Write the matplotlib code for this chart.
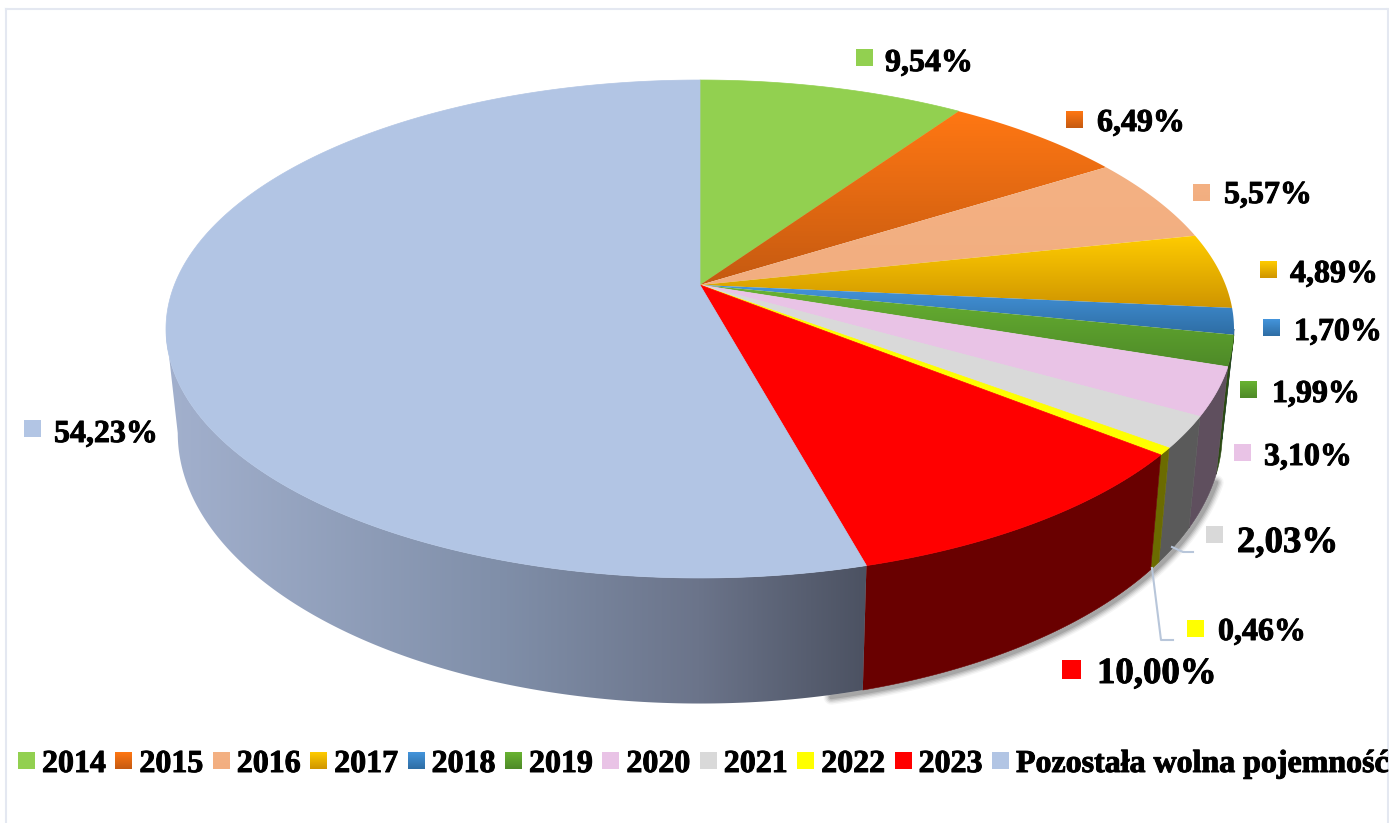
import numpy as np
import matplotlib
matplotlib.use("Agg")
import matplotlib.pyplot as plt
import matplotlib.patheffects as pe
from matplotlib.patches import Polygon, Rectangle
from matplotlib.colors import LinearSegmentedColormap, to_rgb

# data
years = ["2014", "2015", "2016", "2017", "2018", "2019", "2020", "2021", "2022", "2023", "Pozostała wolna pojemność"]
values = [9.54, 6.49, 5.57, 4.89, 1.70, 1.99, 3.10, 2.03, 0.46, 10.00, 54.23]
labels = ["9,54%", "6,49%", "5,57%", "4,89%", "1,70%", "1,99%", "3,10%", "2,03%", "0,46%", "10,00%", "54,23%"]

# top face colours, (light, dark) where the slice has a vertical gradient
top_colors = [("#92d050", "#92d050"), ("#ff7713", "#c55a11"), ("#f4b183", "#f2ae80"), ("#ffcc00", "#cf9500"),
              ("#4495dc", "#2e6da4"), ("#69b332", "#4e8a28"), ("#e9c3e6", "#e9c3e6"), ("#d9d9d9", "#d9d9d9"),
              ("#ffff00", "#ffff00"), ("#ff0000", "#ff0000"), ("#b2c5e4", "#b2c5e4")]
side_colors = ["#4a6a2a", "#7f3b0a", "#7a5840", "#806000", "#234f78", "#2b4a12", "#5f4f5e", "#5a5a5a",
               "#6b6b00", "#690000", None]

# where each label sits: key left, key top, text left, text baseline
key_x = [856, 1066, 1193, 1260, 1263, 1240, 1234, 1206, 1187, 1062, 24]
key_y = [49, 111, 184, 261, 319, 381, 444, 526, 620, 660, 420]
text_x = [885, 1097, 1224, 1290, 1294, 1272, 1264, 1237, 1218, 1097, 54]
text_y = [71, 131, 203, 282, 340, 402, 465, 552, 640, 683, 442]
big_labels = ["2,03%", "10,00%"]

PERSP = 0.1767


def top_rim(theta):
    # perspective view of the pie's top circle, theta clockwise from 12 o'clock
    d = 1 + PERSP * np.cos(theta)
    return 700 + 525.6 * np.sin(theta) / d, 285 - 241.2 * np.cos(theta) / d


def bottom_rim(theta):
    d = 1 + PERSP * np.cos(theta)
    return 700 + 0.978 * 525.6 * np.sin(theta) / d, 385.3 - 262 * np.cos(theta) / d


def gradient_fill(ax, box, light, dark, y0, y1, zorder):
    cmap = LinearSegmentedColormap.from_list("g", [to_rgb(light), to_rgb(dark)])
    ramp = np.linspace(0, 1, 128).reshape(-1, 1)
    return ax.imshow(ramp, cmap=cmap, extent=(box[0], box[1], y1, y0), aspect="auto", zorder=zorder)


fig = plt.figure(figsize=(13.89, 8.23), dpi=100)
ax = fig.add_axes([0, 0, 1, 1])
plt.rcParams["font.family"] = ["Liberation Serif", "DejaVu Serif"]

edges = np.radians(np.concatenate([[0], np.cumsum(values)]) * 3.6)

# the side wall is only seen between the two tangent points of the rims
turn = np.arccos(-PERSP)
seen_from, seen_to = turn, 2 * np.pi - turn

# soft shadow under the right front of the pie
th = np.radians(np.linspace(110, 168, 120))
bx, by = bottom_rim(th)
for lw, a in zip([11, 9, 7, 5, 3], [0.04, 0.06, 0.08, 0.10, 0.12]):
    ax.plot(bx + 2, by + 2, color="black", lw=lw, alpha=a, solid_capstyle="round", zorder=1)

# side walls
for i in range(len(values)):
    start, stop = max(edges[i], seen_from), min(edges[i + 1], seen_to)
    if stop <= start:
        continue
    th = np.linspace(start, stop, 200)
    tx, ty = top_rim(th)
    bx, by = bottom_rim(th)
    outline = np.column_stack([np.concatenate([tx, bx[::-1]]), np.concatenate([ty, by[::-1]])])
    if side_colors[i] is None:
        # horizontal shading on the big slice
        xs = np.linspace(160, 870, 256)
        shade = np.column_stack([np.interp(xs, [170, 500, 700, 866], [0xa2, 0x80, 0x6b, 0x4c]),
                                 np.interp(xs, [170, 500, 700, 866], [0xb0, 0x8f, 0x74, 0x52]),
                                 np.interp(xs, [170, 500, 700, 866], [0xcd, 0xa9, 0x8a, 0x62])]) / 255
        poly = Polygon(outline, closed=True, facecolor="none", edgecolor="none", zorder=2)
        ax.add_patch(poly)
        im = ax.imshow(shade[np.newaxis, :, :], extent=(160, 870, 720, 300), aspect="auto", zorder=2)
        im.set_clip_path(poly)
    else:
        ax.add_patch(Polygon(outline, closed=True, facecolor=side_colors[i], edgecolor=side_colors[i],
                             linewidth=0.4, zorder=2))

# top face slices
for i in range(len(values)):
    th = np.linspace(edges[i], edges[i + 1], max(int(values[i] * 8), 4))
    tx, ty = top_rim(th)
    xs = np.concatenate([[700], tx])
    ys = np.concatenate([[285], ty])
    light, dark = top_colors[i]
    poly = Polygon(np.column_stack([xs, ys]), closed=True, zorder=3 + i * 0.01)
    if light == dark:
        poly.set(facecolor=light, edgecolor=light, linewidth=0.5)
        ax.add_patch(poly)
    else:
        poly.set(facecolor="none", edgecolor="none")
        ax.add_patch(poly)
        im = gradient_fill(ax, (xs.min(), xs.max()), light, dark, ys.min(), ys.max(), 3 + i * 0.01)
        im.set_clip_path(poly)

# leader lines
ax.plot([1172, 1183, 1193], [547, 552, 552], color="#b8c6da", lw=1.5, zorder=4)
ax.plot([1152, 1161, 1173], [568, 640, 640], color="#b8c6da", lw=1.5, zorder=4)


def key_square(x, y, size, i):
    light, dark = top_colors[i]
    if light == dark:
        ax.add_patch(Rectangle((x, y), size, size, facecolor=light, edgecolor="none", zorder=5))
    else:
        gradient_fill(ax, (x, x + size), light, dark, y, y + size, 5)


heavy = [pe.withStroke(linewidth=0.7, foreground="black")]

# data labels
for i in range(len(values)):
    big = labels[i] in big_labels
    key_square(key_x[i], key_y[i], 19 if labels[i] == "10,00%" else 17, i)
    ax.text(text_x[i], text_y[i], labels[i], fontsize=26.5 if big else 23, fontweight="bold",
            ha="left", va="baseline", color="black", zorder=6, path_effects=heavy)

# legend along the bottom
for i in range(len(years)):
    x = 18 + i * 97.4
    key_square(x, 752, 17, i)
    ax.text(x + 24, 772, years[i], fontsize=23, fontweight="bold", ha="left", va="baseline",
            color="black", zorder=6, path_effects=heavy)

# chart frame
ax.plot([6, 6], [9, 823], color="#e4e8f1", lw=1.5, zorder=0)
ax.plot([6, 1388], [9, 9], color="#e4e8f1", lw=1.5, zorder=0)
ax.plot([1388, 1388], [9, 823], color="#e4e8f1", lw=1.5, zorder=0)

ax.set_xlim(0, 1389)
ax.set_ylim(823, 0)
ax.axis("off")
fig.savefig("out.png", dpi=100)
